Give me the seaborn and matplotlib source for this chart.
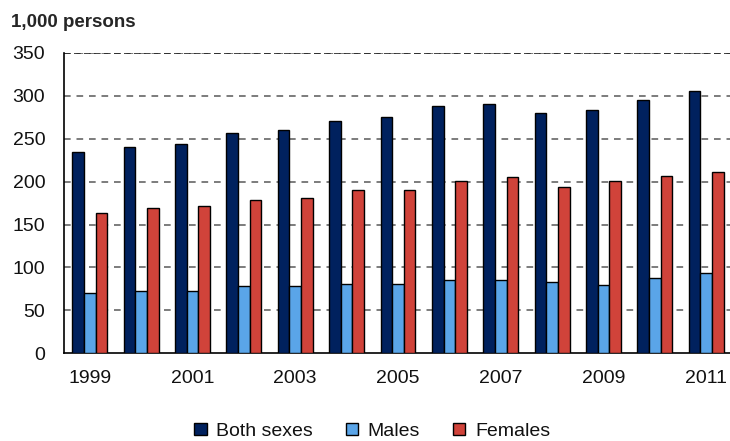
import matplotlib
matplotlib.use("Agg")
import matplotlib.pyplot as plt
from matplotlib.patches import Patch
from matplotlib.ticker import FixedLocator, NullFormatter
import seaborn as sns
import pandas as pd

years = [1999, 2000, 2001, 2002, 2003, 2004, 2005, 2006, 2007, 2008, 2009, 2010, 2011]
both_sexes = [235, 240, 244, 257, 260, 271, 275, 288, 291, 280, 284, 295, 306]
males = [70, 72, 72, 78, 78, 81, 81, 85, 85, 83, 80, 88, 94]
females = [164, 169, 172, 179, 181, 190, 190, 201, 205, 194, 201, 207, 211]
series_names = ["Both sexes", "Males", "Females"]
colors = ["#00215E", "#5AA5E8", "#D0433A"]
y_ticks = [0, 50, 100, 150, 200, 250, 300, 350]
x_label_years = [1999, 2001, 2003, 2005, 2007, 2009, 2011]

rows = []
for name, vals in zip(series_names, [both_sexes, males, females]):
    for yr, v in zip(years, vals):
        rows.append({"year": str(yr), "series": name, "value": v})
df = pd.DataFrame(rows)

sns.set_style("white")
plt.rcParams["font.family"] = ["Liberation Sans", "DejaVu Sans"]

fig = plt.figure(figsize=(7.3, 4.41), dpi=100)
ax = fig.add_axes([0.0877, 0.199, 0.915, 0.681])

sns.barplot(data=df, x="year", y="value", hue="series", hue_order=series_names,
            palette=colors, width=0.68, edgecolor="black", linewidth=1.0,
            saturation=1, legend=False, ax=ax, zorder=3)

ax.set_ylim(0, 350)
ax.set_xlim(-0.5, len(years) - 0.5)
ax.set_yticks(y_ticks)
ax.set_yticklabels([str(t) for t in y_ticks])
for t in y_ticks[1:]:
    ax.axhline(t, color="#666666", lw=1.2, ls=(0, (4, 3.5)), zorder=1)
ax.axhline(350, color="#222222", lw=1.2, ls=(0, (4, 2)), zorder=1)

# x ticks: boundaries as minor ticks, labels at selected centers
ax.xaxis.set_minor_locator(FixedLocator([i - 0.5 for i in range(len(years) + 1)]))
ax.xaxis.set_minor_formatter(NullFormatter())
major_pos = [years.index(y) for y in x_label_years]
ax.set_xticks(major_pos)
ax.set_xticklabels([str(y) for y in x_label_years])
ax.tick_params(axis="x", which="major", length=0, labelsize=14, pad=12, colors="#111111")
ax.tick_params(axis="x", which="minor", length=4.5, width=1, color="black", direction="out")
ax.tick_params(axis="y", length=4.5, width=1, color="black", direction="out",
               labelsize=14, pad=9, labelcolor="#111111")
ax.set_xlabel("")
ax.set_ylabel("")

for s in ["top", "right"]:
    ax.spines[s].set_visible(False)
for s in ["left", "bottom"]:
    ax.spines[s].set_color("black")
    ax.spines[s].set_linewidth(1.2)

fig.text(0.015, 0.95, "1,000 persons", fontsize=13.5, fontweight="bold", ha="left", va="center")

handles = [Patch(facecolor=c, edgecolor="black", linewidth=1.0) for c in colors]
fig.legend(handles, series_names, loc="center", bbox_to_anchor=(0.51, 0.022),
           ncol=3, frameon=False, fontsize=14, handlelength=0.62, handleheight=0.62,
           handletextpad=0.5, columnspacing=1.7, labelcolor="#111111")

fig.savefig("out.png", dpi=100)
